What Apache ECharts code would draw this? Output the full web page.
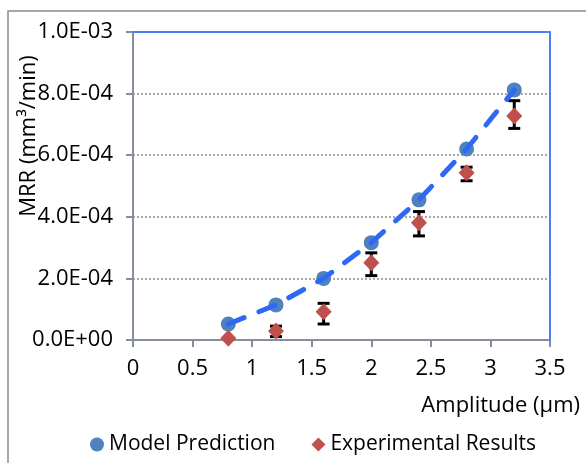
<!DOCTYPE html>
<html>
<head>
<meta charset="utf-8">
<script src="https://cdn.jsdelivr.net/npm/echarts@6/dist/echarts.min.js"></script>
<style>
  html, body { margin: 0; padding: 0; background: #fff; }
  #chart { width: 586px; height: 463px; }
</style>
</head>
<body>
<div id="chart"></div>
<script>
// amplitude (um)
var amplitude = [0.8, 1.2, 1.6, 2.0, 2.4, 2.8, 3.2];
// MRR, mm^3/min
var modelPrediction = [0.52e-4, 1.14e-4, 2.0e-4, 3.16e-4, 4.55e-4, 6.2e-4, 8.12e-4];
var experimental = [0.06e-4, 0.29e-4, 0.92e-4, 2.51e-4, 3.81e-4, 5.43e-4, 7.27e-4];
var expLow = [null, 0.11e-4, 0.52e-4, 2.09e-4, 3.38e-4, 5.17e-4, 6.87e-4];
var expHigh = [null, 0.45e-4, 1.19e-4, 2.83e-4, 4.17e-4, 5.61e-4, 7.77e-4];
var yTickLabels = ['0.0E+00', '2.0E-04', '4.0E-04', '6.0E-04', '8.0E-04', '1.0E-03'];

var font = 'Open Sans';
var fs = 22;
var chart = echarts.init(document.getElementById('chart'));

function pairs(xs, ys) {
    return xs.map(function (x, i) { return [x, ys[i]]; });
}

var errData = [];
amplitude.forEach(function (x, i) {
    if (expLow[i] != null) errData.push([x, expLow[i], expHigh[i]]);
});

var option = {
    animation: false,
    grid: { left: 133, top: 32, right: 36, bottom: 123 },
    graphic: [
        {
            type: 'rect',
            shape: { x: 8, y: 11, width: 640, height: 520 },
            style: { fill: 'none', stroke: '#8c8c8c', lineWidth: 1.5 },
            silent: true
        },
        {
            type: 'text',
            x: 29, y: 136,
            rotation: Math.PI / 2,
            style: {
                text: 'MRR (mm³/min)',
                font: fs + 'px "' + font + '"',
                fill: '#000',
                align: 'center',
                verticalAlign: 'middle'
            }
        }
    ],
    legend: {
        data: ['Model Prediction', 'Experimental Results'],
        left: 90,
        top: 434,
        padding: 0,
        itemWidth: 14,
        itemHeight: 14,
        itemGap: 36,
        textStyle: { fontFamily: font, fontSize: 21, color: '#000' }
    },
    xAxis: [{
        type: 'value',
        min: 0, max: 3.5, interval: 0.5,
        name: 'Amplitude (μm)',
        nameLocation: 'end',
        nameGap: 30,
        nameTextStyle: {
            fontFamily: font, fontSize: fs, color: '#000',
            align: 'right', verticalAlign: 'top', padding: [55, 0, 0, 0]
        },
        axisLine: { lineStyle: { color: '#878ea0', width: 2 } },
        axisTick: { length: 7, lineStyle: { color: '#878ea0', width: 2 } },
        axisLabel: { fontFamily: font, fontSize: fs, color: '#000', margin: 18 },
        splitLine: { show: false }
    }, {
        type: 'value', position: 'top',
        min: 0, max: 3.5, z: 5,
        axisLine: { show: true, onZero: false, lineStyle: { color: '#4a7ef5', width: 2 } },
        axisTick: { show: false }, axisLabel: { show: false }, splitLine: { show: false }
    }],
    yAxis: [{
        type: 'value',
        min: 0, max: 1e-3, interval: 2e-4,
        axisLine: { show: true, onZero: false, lineStyle: { color: '#878ea0', width: 2 } },
        axisTick: { show: true, length: 7, lineStyle: { color: '#878ea0', width: 2 } },
        axisLabel: {
            fontFamily: font, fontSize: fs, color: '#000', margin: 20,
            formatter: function (v) { return yTickLabels[Math.round(v / 2e-4)]; }
        },
        splitLine: { lineStyle: { color: '#8c8c8c', type: [2, 2], width: 1.5 } }
    }, {
        type: 'value', position: 'right',
        min: 0, max: 1e-3, z: 5,
        axisLine: { show: true, onZero: false, lineStyle: { color: '#4a7ef5', width: 2 } },
        axisTick: { show: false }, axisLabel: { show: false }, splitLine: { show: false }
    }],
    series: [
        {
            name: 'Model Prediction',
            type: 'scatter',
            symbol: 'circle',
            symbolSize: 15,
            itemStyle: { color: '#4f81bd', opacity: 1 },
            data: pairs(amplitude, modelPrediction),
            z: 2
        },
        {
            name: 'trend',
            type: 'line',
            showSymbol: false,
            lineStyle: { color: '#2f68f5', width: 5, type: [17, 16], cap: 'round' },
            data: pairs(amplitude, modelPrediction),
            z: 3
        },
        {
            name: 'error',
            type: 'custom',
            data: errData,
            z: 2,
            renderItem: function (params, api) {
                var x = api.value(0);
                var lo = api.coord([x, api.value(1)]);
                var hi = api.coord([x, api.value(2)]);
                var hw = 6;
                var st = { stroke: '#000', lineWidth: 3 };
                return {
                    type: 'group',
                    children: [
                        { type: 'line', shape: { x1: lo[0], y1: lo[1], x2: hi[0], y2: hi[1] }, style: st },
                        { type: 'line', shape: { x1: lo[0] - hw, y1: lo[1], x2: lo[0] + hw, y2: lo[1] }, style: st },
                        { type: 'line', shape: { x1: hi[0] - hw, y1: hi[1], x2: hi[0] + hw, y2: hi[1] }, style: st }
                    ]
                };
            }
        },
        {
            name: 'Experimental Results',
            type: 'scatter',
            symbol: 'diamond',
            symbolSize: [16, 17],
            itemStyle: { color: '#c0504d', opacity: 1 },
            data: pairs(amplitude, experimental),
            z: 4
        }
    ]
};

chart.setOption(option);
</script>
</body>
</html>
